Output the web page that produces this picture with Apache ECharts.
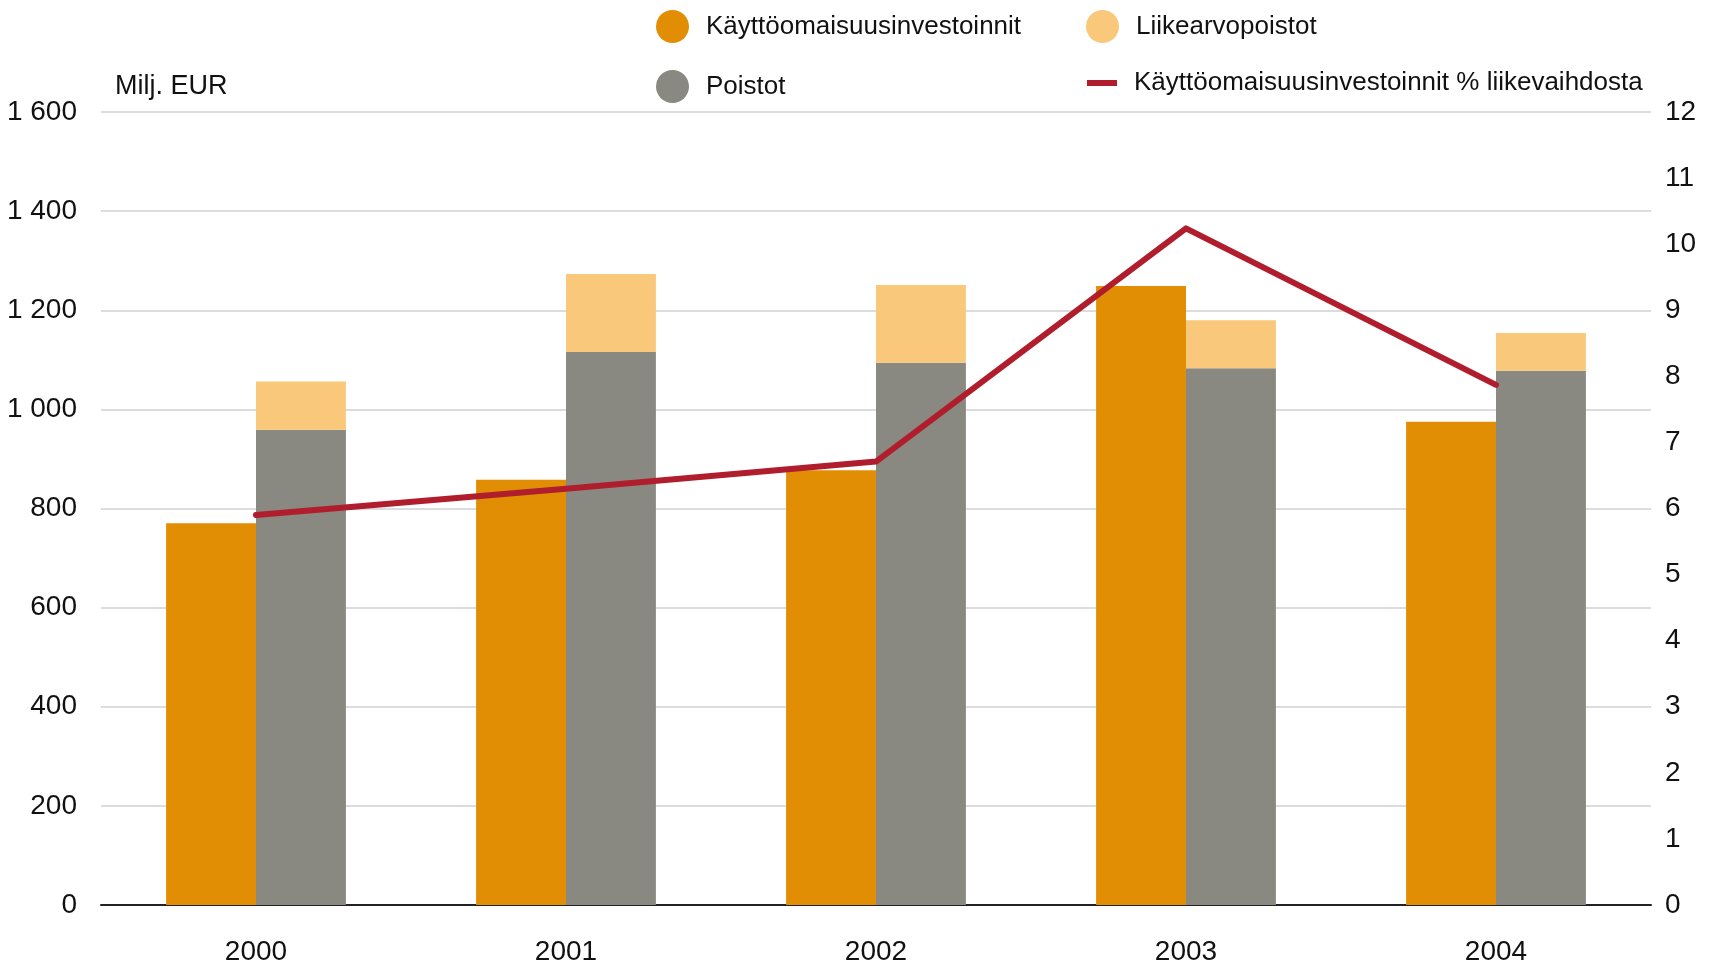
<!DOCTYPE html>
<html>
<head>
<meta charset="utf-8">
<style>
  html, body { margin: 0; padding: 0; background: #fff; }
  #chart { width: 1718px; height: 969px; }
</style>
<script src="https://cdn.jsdelivr.net/npm/echarts@6/dist/echarts.min.js"></script>
</head>
<body>
<div id="chart"></div>
<script>
// data
var years = ['2000', '2001', '2002', '2003', '2004'];
var investoinnit = [770, 858, 877, 1249, 975];
var poistot = [959, 1116, 1094, 1083, 1078];
var liikearvopoistot = [97, 157, 157, 97, 76];
var investointiProsentti = [5.9, 6.3, 6.71, 10.24, 7.87];

var FONT = "'Liberation Sans Narrow', 'Arial Narrow', 'Liberation Sans', sans-serif";
var orange = '#e28e05';
var light = '#f9c87a';
var grey = '#898981';
var red = '#b01e2e';

function spaced(v) {
	return String(v).replace(/\B(?=(\d{3})+(?!\d))/g, ' ');
}

function legendItem(name, left, top, icon, w, h) {
	return {
		left : left,
		top : top,
		icon : icon,
		itemWidth : w,
		itemHeight : h,
		data : [ name ],
		selectedMode : false,
		textStyle : {
			fontFamily : FONT,
			fontSize : 26,
			color : '#111',
			padding : [ 0, 0, 0, 12 ]
		}
	};
}

var myChart = echarts.init(document.getElementById('chart'));
var option = {
	animation : false,
	title : {
		text : 'Milj. EUR',
		left : 110,
		top : 68,
		textStyle : {
			fontFamily : FONT,
			fontSize : 27,
			fontWeight : 'normal',
			color : '#111'
		}
	},
	legend : [
		legendItem('Käyttöomaisuusinvestoinnit', 651, 5, 'circle', 33, 33),
		legendItem('Liikearvopoistot', 1081, 5, 'circle', 33, 33),
		legendItem('Poistot', 651, 65, 'circle', 33, 33),
		legendItem('Käyttöomaisuusinvestoinnit % liikevaihdosta', 1082, 65, 'rect', 30, 6)
	],
	grid : {
		left : 101,
		right : 67,
		top : 112,
		bottom : 64
	},
	xAxis : [ {
		type : 'category',
		data : years,
		axisTick : { show : false },
		axisLine : { lineStyle : { color : '#222', width : 2 } },
		axisLabel : {
			margin : 33,
			fontFamily : FONT,
			fontSize : 28,
			color : '#111'
		}
	} ],
	yAxis : [ {
		type : 'value',
		min : 0,
		max : 1600,
		interval : 200,
		axisLine : { show : false },
		axisTick : { show : false },
		splitLine : { lineStyle : { color : '#dcdcdc', width : 2 } },
		axisLabel : {
			margin : 24,
			fontFamily : FONT,
			fontSize : 28,
			color : '#111',
			formatter : spaced
		}
	}, {
		type : 'value',
		min : 0,
		max : 12,
		interval : 1,
		axisLine : { show : false },
		axisTick : { show : false },
		splitLine : { show : false },
		axisLabel : {
			margin : 14,
			fontFamily : FONT,
			fontSize : 28,
			color : '#111'
		}
	} ],
	series : [ {
		name : 'Käyttöomaisuusinvestoinnit',
		type : 'bar',
		data : investoinnit,
		barGap : '0%',
		barCategoryGap : '42%',
		itemStyle : { color : orange }
	}, {
		name : 'Poistot',
		type : 'bar',
		stack : 'poistot',
		data : poistot,
		itemStyle : { color : grey }
	}, {
		name : 'Liikearvopoistot',
		type : 'bar',
		stack : 'poistot',
		data : liikearvopoistot,
		itemStyle : { color : light }
	}, {
		name : 'Käyttöomaisuusinvestoinnit % liikevaihdosta',
		type : 'line',
		yAxisIndex : 1,
		data : investointiProsentti,
		symbol : 'none',
		z : 5,
		itemStyle : { color : red },
		lineStyle : { color : red, width : 6, cap : 'round', join : 'round' }
	} ]
};
myChart.setOption(option);
</script>
</body>
</html>
